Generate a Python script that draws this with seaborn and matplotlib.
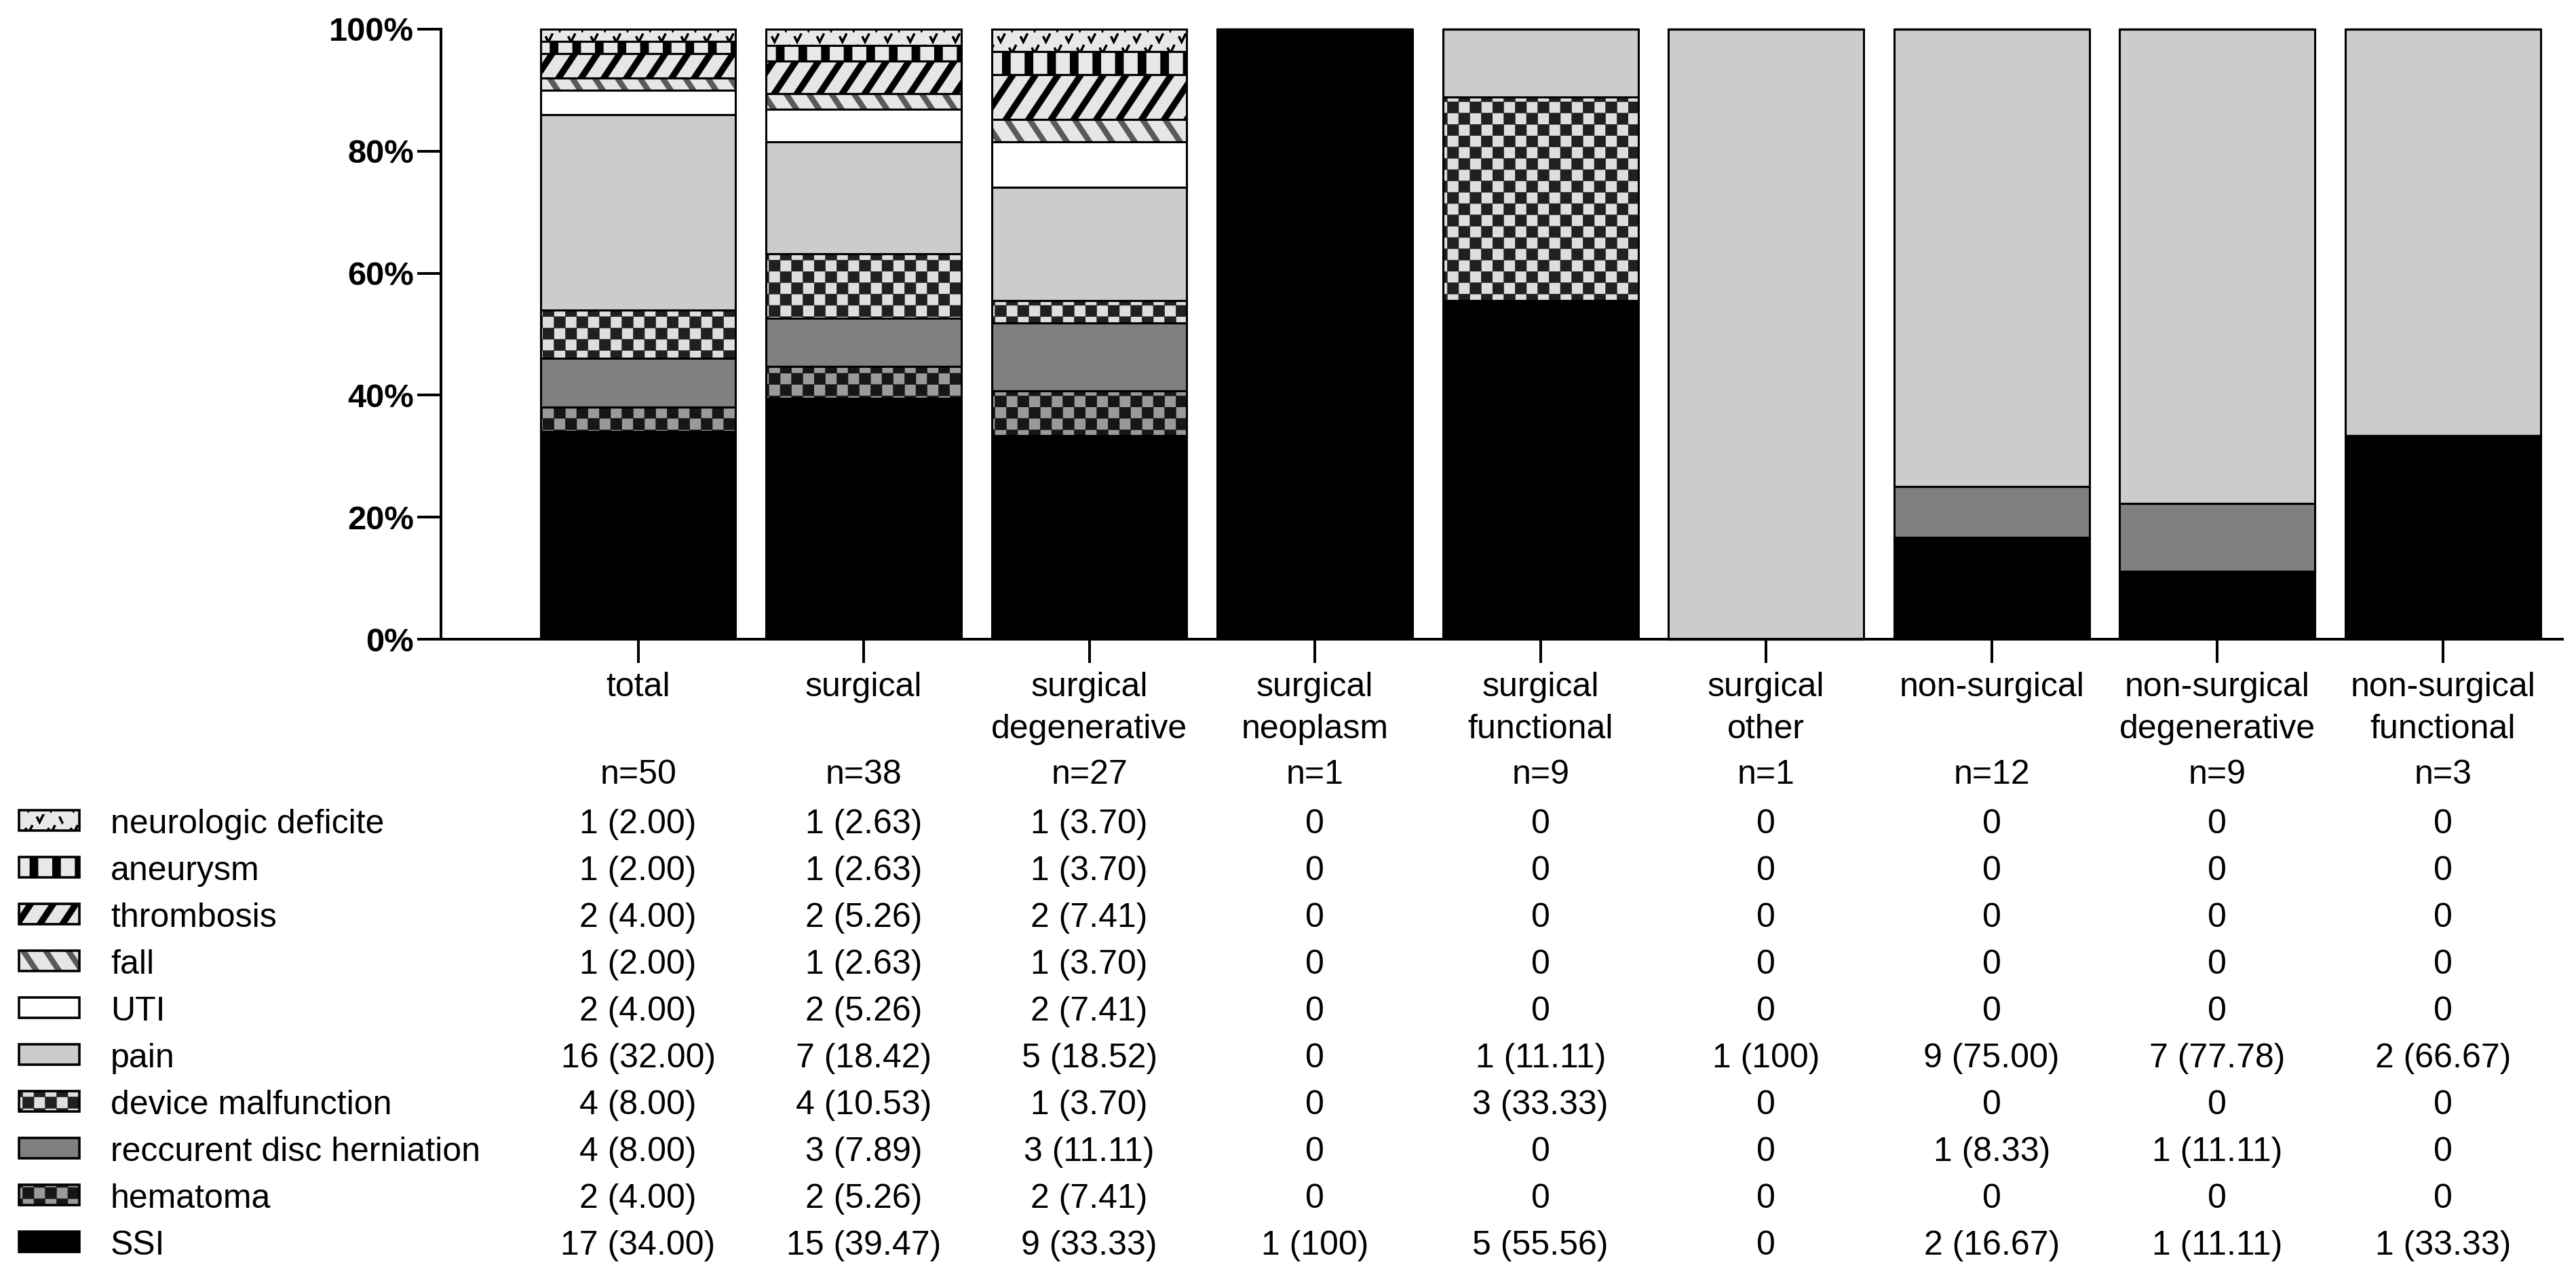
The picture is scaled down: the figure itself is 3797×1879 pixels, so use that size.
import warnings
import numpy as np
import matplotlib
matplotlib.use("Agg")
import matplotlib.pyplot as plt
import matplotlib.hatch as mhatch
from matplotlib.path import Path
from matplotlib.patches import Rectangle
from matplotlib.transforms import blended_transform_factory
import seaborn as sns

warnings.filterwarnings("ignore", message=".*hatch must consist.*")

# groups (x axis) and group sizes
groups = ["total", "surgical", "surgical\ndegenerative", "surgical\nneoplasm",
          "surgical\nfunctional", "surgical\nother", "non-surgical",
          "non-surgical\ndegenerative", "non-surgical\nfunctional"]
n_patients = [50, 38, 27, 1, 9, 1, 12, 9, 3]

# number of patients per complication, same order as groups
ssi = [17, 15, 9, 1, 5, 0, 2, 1, 1]
hematoma = [2, 2, 2, 0, 0, 0, 0, 0, 0]
disc_herniation = [4, 3, 3, 0, 0, 0, 1, 1, 0]
device = [4, 4, 1, 0, 3, 0, 0, 0, 0]
pain = [16, 7, 5, 0, 1, 1, 9, 7, 2]
uti = [2, 2, 2, 0, 0, 0, 0, 0, 0]
fall = [1, 1, 1, 0, 0, 0, 0, 0, 0]
thrombosis = [2, 2, 2, 0, 0, 0, 0, 0, 0]
aneurysm = [1, 1, 1, 0, 0, 0, 0, 0, 0]
neuro = [1, 1, 1, 0, 0, 0, 0, 0, 0]

# stacking order, bottom -> top
complications = ["SSI", "hematoma", "reccurent disc herniation", "device malfunction",
                 "pain", "UTI", "fall", "thrombosis", "aneurysm", "neurologic deficite"]
counts = [ssi, hematoma, disc_herniation, device, pain, uti, fall, thrombosis, aneurysm, neuro]


# --- custom hatches: checkerboard 'c', small v marks 'v', steep stripes 't' ---
class CheckerHatch(mhatch.HatchPatternBase):
    def __init__(self, hatch, density):
        self.num = hatch.count("c") * density * 2
        self.num_vertices = (self.num * self.num // 2) * 5

    def set_vertices_and_codes(self, vertices, codes):
        s = 1.0 / self.num
        k = 0
        for i in range(self.num):
            for j in range(self.num):
                if (i + j) % 2 == 0:
                    x, y = i * s, j * s
                    vertices[k:k + 5] = [(x, y), (x + s, y), (x + s, y + s), (x, y + s), (x, y)]
                    codes[k:k + 5] = [Path.MOVETO, Path.LINETO, Path.LINETO, Path.LINETO, Path.CLOSEPOLY]
                    k += 5


class VHatch(mhatch.HatchPatternBase):
    def __init__(self, hatch, density):
        self.cols = hatch.count("v") * density
        self.rows = self.cols * 2
        self.num_vertices = self.cols * self.rows * 5

    def set_vertices_and_codes(self, vertices, codes):
        dx = 1.0 / self.cols
        dy = 1.0 / self.rows
        h = 0.017
        k = 0
        for r in range(self.rows):
            for c in range(self.cols):
                x = c * dx + dx / 4 + (dx / 2 if r % 2 else 0)
                y = r * dy + dy / 2
                vertices[k:k + 5] = [(x - h, y + h), (x, y - h), (x + h, y + h), (x, y - h), (x - h, y + h)]
                codes[k:k + 5] = [Path.MOVETO] + [Path.LINETO] * 4
                k += 5


class SteepHatch(mhatch.HatchPatternBase):
    # stripes steeper than 45 deg, 't' rising, 'r' falling
    def __init__(self, hatch, density):
        self.up = hatch.count("t") > 0
        self.on = hatch.count("t") + hatch.count("r")
        self.num = self.on * density
        self.num_vertices = (3 * self.num + 1) * 2 if self.on else 0

    def set_vertices_and_codes(self, vertices, codes):
        run = 2.0 / 3.0
        k = 0
        for i in range(-2 * self.num, self.num + 1):
            x0 = i / self.num
            if self.up:
                vertices[k:k + 2] = [(x0, 0.0), (x0 + run, 1.0)]
            else:
                vertices[k:k + 2] = [(x0 + run, 0.0), (x0, 1.0)]
            codes[k:k + 2] = [Path.MOVETO, Path.LINETO]
            k += 2


mhatch._hatch_types.append(CheckerHatch)
mhatch._hatch_types.append(VHatch)
mhatch._hatch_types.append(SteepHatch)

# face colour, hatch, hatch colour, hatch linewidth
styles = {
    "SSI": ("#000000", None, "#000000", 1.0),
    "hematoma": ("#9a9a9a", "c", "#161616", 0.2),
    "reccurent disc herniation": ("#808080", None, "#808080", 1.0),
    "device malfunction": ("#dedede", "c", "#202020", 0.2),
    "pain": ("#cccccc", None, "#cccccc", 1.0),
    "UTI": ("#ffffff", None, "#ffffff", 1.0),
    "fall": ("#e6e6e6", "r", "#5a5a5a", 3.0),
    "thrombosis": ("#e6e6e6", "t", "#000000", 3.4),
    "aneurysm": ("#e8e8e8", "|", "#000000", 4.6),
    "neurologic deficite": ("#e8e8e8", "v", "#000000", 1.1),
}

sns.set_theme(style="ticks")
plt.rcParams["font.family"] = ["Liberation Sans", "DejaVu Sans"]
plt.rcParams["text.color"] = "black"

W, H = 3798, 1879
fig, ax = plt.subplots(figsize=(W / 200, H / 200), dpi=200)
fig.subplots_adjust(left=650 / W, right=3777 / W, bottom=1 - 942 / H, top=1 - 43 / H)

bar_w = 0.865
n_arr = np.array(n_patients)
bottom = np.zeros(len(groups))
for name, cnt in zip(complications, counts):
    face, hatch, hcol, hlw = styles[name]
    pct = np.array(cnt) / n_arr * 100
    with plt.rc_context({"hatch.linewidth": hlw}):
        sns.barplot(x=groups, y=pct, bottom=bottom.copy(), color=face, edgecolor=hcol,
                    linewidth=0, hatch=hatch, width=bar_w, saturation=1,
                    errorbar=None, ax=ax)
    for p in ax.patches[-len(groups):]:
        if hasattr(p, "set_hatch_linewidth"):
            p.set_hatch_linewidth(hlw)
    bottom += pct

# segment outlines
bottom = np.zeros(len(groups))
for name, cnt in zip(complications, counts):
    pct = np.array(cnt) / n_arr * 100
    sns.barplot(x=groups, y=pct, bottom=bottom.copy(), fill=False, color="black",
                linewidth=1.1, width=bar_w, errorbar=None, ax=ax, clip_on=False)
    bottom += pct

ax.set_xlim(-0.874, 8.53)
ax.set_ylim(0, 100)
ax.set_yticks([0, 20, 40, 60, 80, 100])
ax.set_yticklabels([f"{v}%" for v in [0, 20, 40, 60, 80, 100]], fontsize=17.6, fontweight="bold")
ax.set_xticks(range(len(groups)))
ax.set_xticklabels(groups, fontsize=18, linespacing=1.45)
ax.tick_params(axis="both", length=12.6, width=1.44, color="black", labelcolor="black")
ax.tick_params(axis="y", pad=1.8)
ax.tick_params(axis="x", pad=4.5)
for side in ["left", "bottom"]:
    ax.spines[side].set_linewidth(1.44)
    ax.spines[side].set_color("black")
sns.despine(ax=ax)
ax.set_xlabel("")
ax.set_ylabel("")


def fy(px):
    return 1 - px / H


trans = blended_transform_factory(ax.transData, fig.transFigure)
for i, n in enumerate(n_patients):
    ax.text(i, fy(1155), f"n={n}", transform=trans, ha="center", va="baseline", fontsize=18)

# table rows, top -> bottom
for r, k in enumerate(reversed(range(len(complications)))):
    base = 1228 + 69 * r
    name = complications[k]
    for i in range(len(groups)):
        c = counts[k][i]
        if c == 0:
            label = "0"
        elif c == n_patients[i]:
            label = f"{c} (100)"
        else:
            label = f"{c} ({c / n_patients[i] * 100:.2f})"
        ax.text(i, fy(base), label, transform=trans, ha="center", va="baseline", fontsize=18)
    fig.text(163 / W, fy(base), name, ha="left", va="baseline", fontsize=18)

    face, hatch, hcol, hlw = styles[name]
    with plt.rc_context({"hatch.linewidth": hlw}):
        sw = Rectangle((28 / W, fy(base - 4)), 89 / W, 30 / H, facecolor=face,
                       edgecolor=hcol, linewidth=0, hatch=hatch)
    if hasattr(sw, "set_hatch_linewidth"):
        sw.set_hatch_linewidth(hlw)
    fig.add_artist(sw)
    fig.add_artist(Rectangle((28 / W, fy(base - 4)), 89 / W, 30 / H, fill=False,
                             edgecolor="black", linewidth=1.3))

plt.savefig("out.png", dpi=200)
plt.close()
